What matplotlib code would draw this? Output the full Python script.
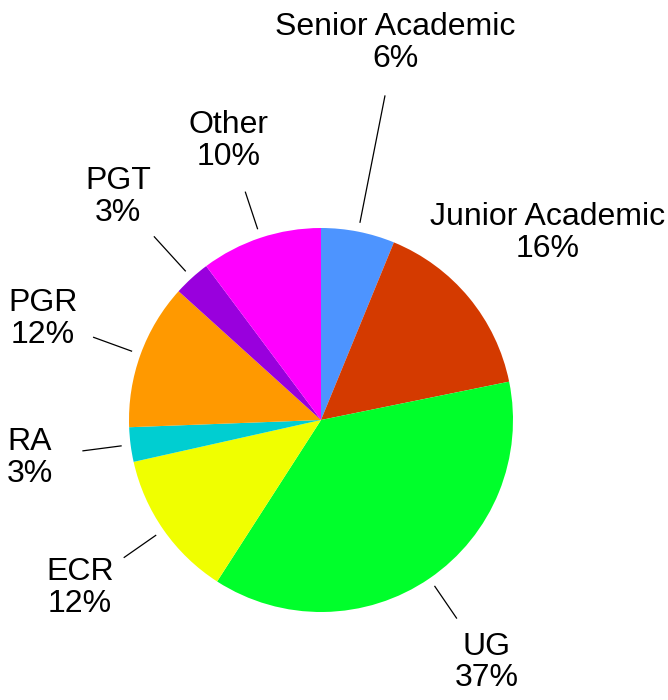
import numpy as np
import matplotlib.pyplot as plt

plt.rcParams['font.family'] = ['Liberation Sans', 'DejaVu Sans']

# Share of respondents by role, clockwise from the top
roles = ['Senior Academic', 'Junior Academic', 'UG', 'ECR', 'RA', 'PGR',
         'PGT', 'Other']
shares = [6.2, 15.6, 37.3, 12.4, 2.9, 12.3, 3.1, 10.2]
colors = ['#4D94FF', '#D43A00', '#00FF2B', '#F0FF00', '#00CED1', '#FF9900',
          '#9900DD', '#FF00FF']

# label distance (in radii) and whether a leader line is drawn
label_r = [2.0, 1.53, 1.53, 1.53, 1.53, 1.54, 1.57, 1.53]
leader = [True, False, True, True, True, True, True, True]

W, H = 668, 700
cx, cy, R = 321, 420, 192

fig = plt.figure(figsize=(W / 100, H / 100), dpi=100)
ax = fig.add_axes([0, 0, 1, 1])

wedges, _ = ax.pie(shares, colors=colors, startangle=90, counterclock=False,
                   radius=1, wedgeprops=dict(linewidth=0))

for w, role, v, lr, ld in zip(wedges, roles, shares, label_r, leader):
    mid = np.deg2rad((w.theta1 + w.theta2) / 2)
    d = np.array([np.cos(mid), np.sin(mid)])
    if ld:
        p0, p1 = 1.05 * d, (lr - 0.28) * d
        ax.plot([p0[0], p1[0]], [p0[1], p1[1]], color='black', lw=0.9)
    ax.text(lr * d[0], lr * d[1], f'{role}\n{v:.0f}%', ha='center',
            va='center', fontsize=23, linespacing=1.08)

ax.set_xlim(-cx / R, (W - cx) / R)
ax.set_ylim(-(H - cy) / R, cy / R)
ax.set_aspect('equal')
ax.axis('off')

fig.savefig('out.png', dpi=100)
